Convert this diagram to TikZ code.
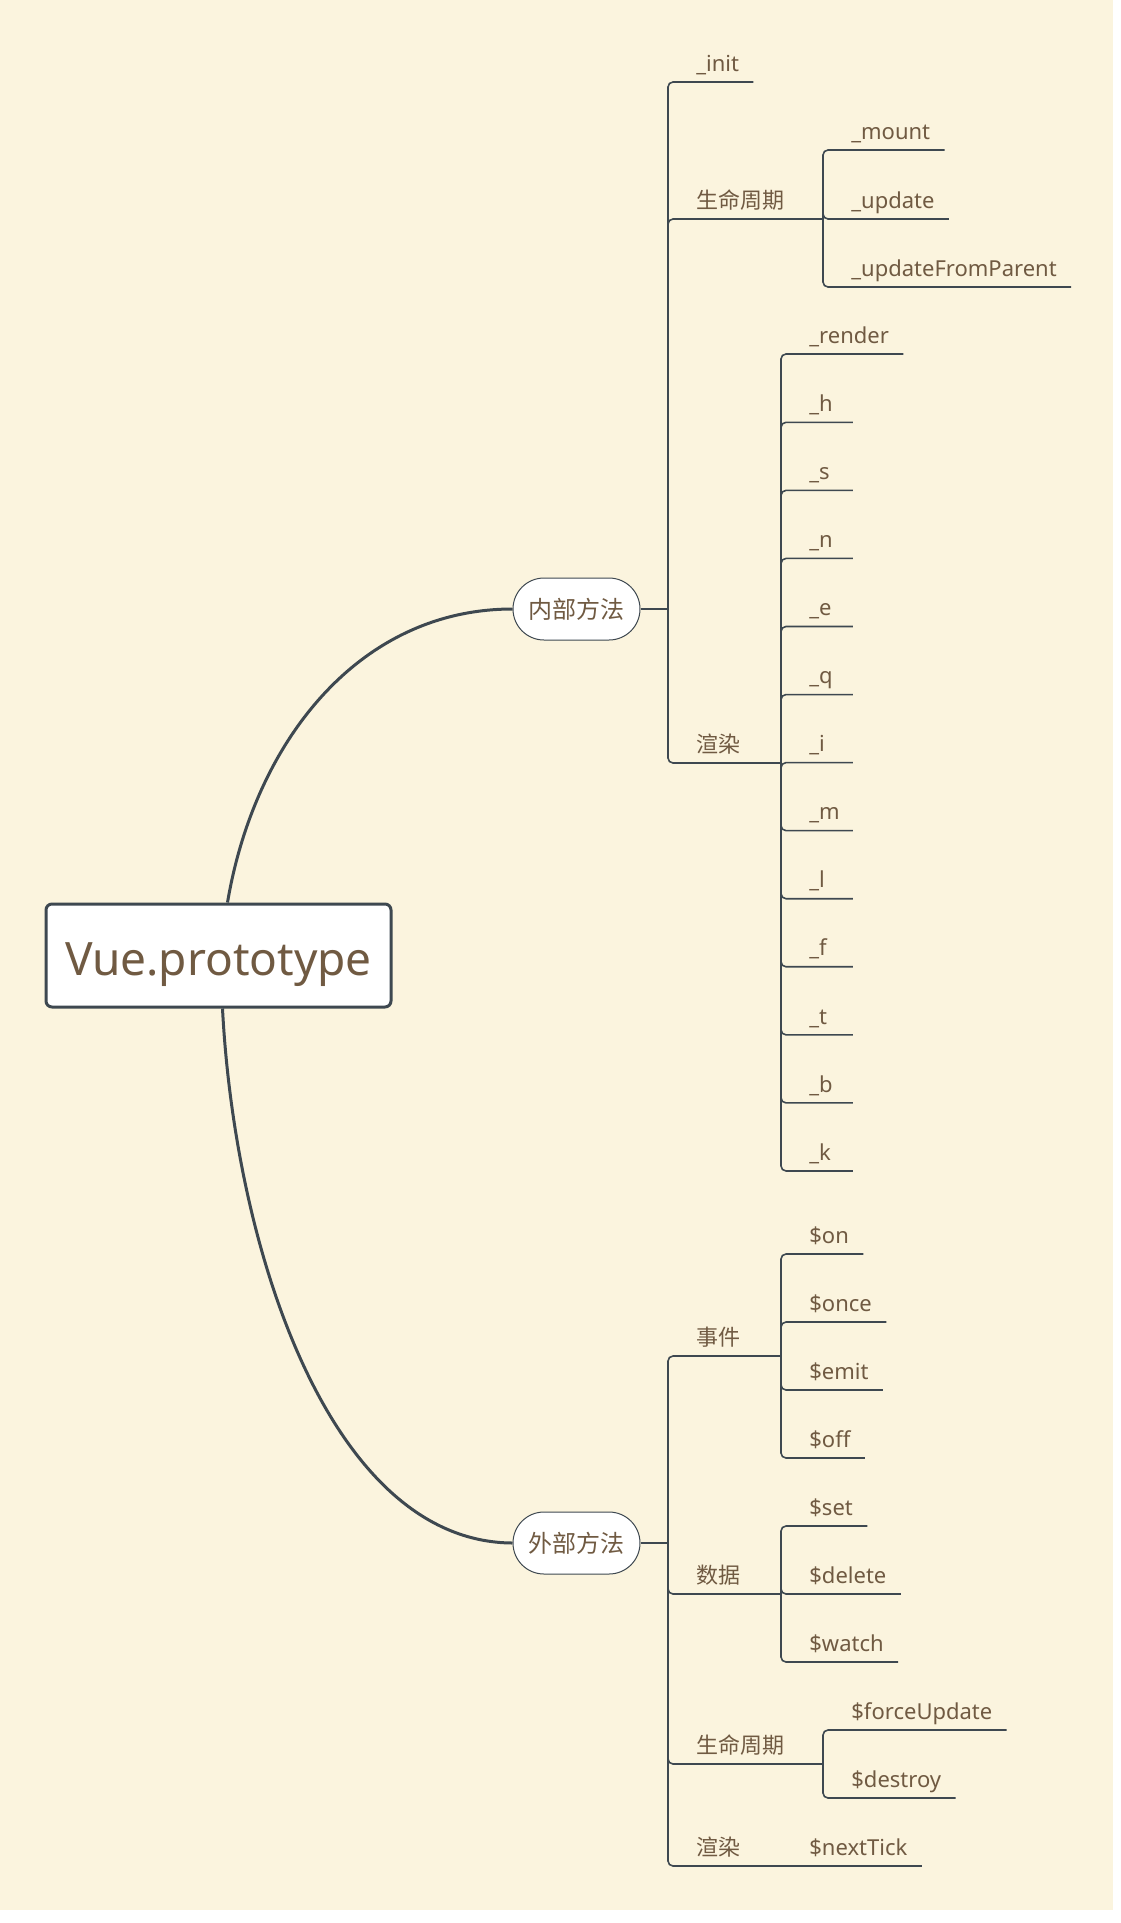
\documentclass[tikz,border=0pt]{standalone}
\usepackage{fontspec}
\setmainfont{Noto Sans}
\newfontfamily\cjk{Noto Sans CJK SC}
\definecolor{bg}{RGB}{251,244,222}
\definecolor{ln}{RGB}{62,72,80}
\definecolor{tx}{RGB}{112,90,66}

\begin{document}
\begin{tikzpicture}[x=0.5pt,y=-0.5pt,
  leaf/.style={anchor=south west,inner xsep=7pt,inner ysep=5.2pt,text depth=0pt,text=tx,font=\fontsize{11}{13}\selectfont},
  twig/.style={draw=ln,line width=0.8pt,rounded corners=2.5pt},
  limb/.style={draw=ln,line width=1.5pt},
  pill/.style={draw=ln,fill=white,line width=0.5pt,rounded corners=15.5pt,minimum width=63.5pt,minimum height=31pt,text=tx,font=\cjk\fontsize{12}{14}\selectfont}]
\useasboundingbox (0,0) rectangle (1120,1923);
\fill[bg] (0,0) rectangle (1113,1910);

\node [draw=ln,fill=white,line width=1.5pt,rounded corners=3pt,minimum width=172.5pt,minimum height=51.5pt,text height=19.5pt,text depth=0pt,text=tx,font=\fontsize{23}{27}\selectfont] (root) at (218.5,955.5) {Vue.prototype};
\node [pill] (inner) at (576.5,609) {内部方法};
\node [pill] (outer) at (576.5,1543) {外部方法};

\draw[limb] ([xshift=4.5pt]root.north) .. controls (255,740) and (360,609) .. (inner.west);
\draw[limb] ([xshift=2pt]root.south) .. controls (235,1250) and (330,1542) .. (outer.west);

\coordinate (jin) at (668,609);
\coordinate (jlc) at (823,219);
\coordinate (jrd) at (781,763);
\coordinate (jout) at (668,1543);
\coordinate (jev) at (781,1356);
\coordinate (jdt) at (781,1594);
\coordinate (jlc2) at (823,1764);

\draw[draw=ln,line width=1pt] (inner.east) -- (jin);
\draw[draw=ln,line width=1pt] (outer.east) -- (jout);

% internal
\node [leaf] (init) at (682,82) {\_init};
\node [leaf,font=\cjk\fontsize{11}{13}\selectfont] (lc) at (682,219) {生命周期};
\node [leaf,font=\cjk\fontsize{11}{13}\selectfont] (rd) at (682,763) {渲染};
\draw[twig] (jin) |- (init.south east);
\draw[twig] (jin) |- (lc.south east);
\draw[twig] (jin) |- (rd.south east);
\draw[twig] (lc.south east) -- (jlc);
\draw[twig] (rd.south east) -- (jrd);

\node [leaf] (mount) at (837,150) {\_mount};
\node [leaf] (update) at (837,219) {\_update};
\node [leaf] (ufp) at (837,287) {\_updateFromParent};
\foreach \c in {mount,update,ufp}
  \draw[twig] (jlc) |- (\c.south east);

\node [leaf] (rrender) at (795,354) {\_render};
\draw[twig] (jrd) |- (rrender.south east);
\foreach \n [count=\i from 5] in {h,s,n,e,q,i,m,l,f,t,b,k} {
  \node [leaf,text width=14.5pt,align=left] (r\n) at (795,82+68.06*\i) {\_\n};
  \draw[twig] (jrd) |- (r\n.south east);
}

% external
\node [leaf,font=\cjk\fontsize{11}{13}\selectfont] (ev) at (682,1356) {事件};
\node [leaf,font=\cjk\fontsize{11}{13}\selectfont] (dt) at (682,1594) {数据};
\node [leaf,font=\cjk\fontsize{11}{13}\selectfont] (lc2) at (682,1764) {生命周期};
\node [leaf,font=\cjk\fontsize{11}{13}\selectfont] (ro) at (682,1866) {渲染};
\foreach \c in {ev,dt,lc2,ro}
  \draw[twig] (jout) |- (\c.south east);
\draw[twig] (ev.south east) -- (jev);
\draw[twig] (dt.south east) -- (jdt);
\draw[twig] (lc2.south east) -- (jlc2);

\node [leaf] (on) at (795,1254) {\$on};
\node [leaf] (once) at (795,1322) {\$once};
\node [leaf] (emit) at (795,1390) {\$emit};
\node [leaf] (off) at (795,1458) {\$off};
\foreach \c in {on,once,emit,off}
  \draw[twig] (jev) |- (\c.south east);

\node [leaf] (set) at (795,1526) {\$set};
\node [leaf] (del) at (795,1594) {\$delete};
\node [leaf] (watch) at (795,1662) {\$watch};
\foreach \c in {set,del,watch}
  \draw[twig] (jdt) |- (\c.south east);

\node [leaf] (fu) at (837,1730) {\$forceUpdate};
\node [leaf] (des) at (837,1798) {\$destroy};
\foreach \c in {fu,des}
  \draw[twig] (jlc2) |- (\c.south east);

\node [leaf] (nt) at (795,1866) {\$nextTick};
\draw[twig] (ro.south east) -- (nt.south east);

\end{tikzpicture}
\end{document}
